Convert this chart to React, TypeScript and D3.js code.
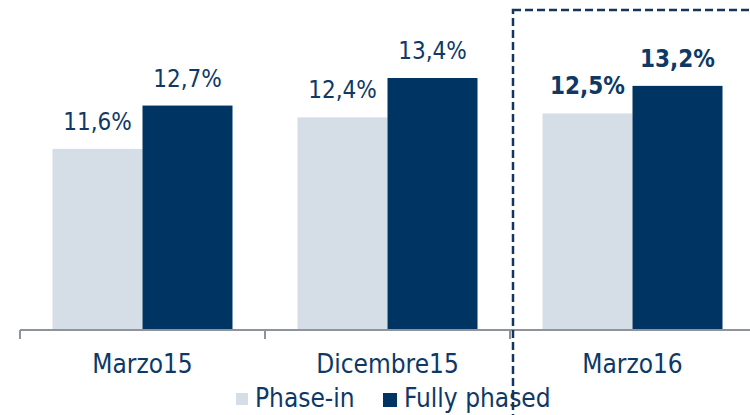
import React from "react";
import * as d3 from "d3";

const categories = ["Marzo15", "Dicembre15", "Marzo16"];
const series = ["Phase-in", "Fully phased"];
const phaseIn = [11.6, 12.4, 12.5];
const fullyPhased = [12.7, 13.4, 13.2];
const labelsPhaseIn = ["11,6%", "12,4%", "12,5%"];
const labelsFully = ["12,7%", "13,4%", "13,2%"];
const boldCategory = "Marzo16";

const W = 750;
const H = 415;
const FONT = "'DejaVu Sans Condensed', 'DejaVu Sans', sans-serif";
const TEXT = "#0E3966";
const COLORS = ["#D5DEE6", "#003463"];

export default function App() {
  const x0 = d3.scaleBand<string>().domain(categories).range([20, 755]).paddingInner(0).paddingOuter(0);
  const groupW = 180;
  const xs = d3.scaleBand<string>().domain(series).range([(x0.bandwidth() - groupW) / 2, (x0.bandwidth() + groupW) / 2]);
  const y = d3.scaleLinear().domain([7, 13.4]).range([330, 78]);
  const data = [phaseIn, fullyPhased];
  const labels = [labelsPhaseIn, labelsFully];

  return (
    <svg width={W} height={H} style={{ position: "absolute", left: 0, top: 0, background: "#fff" }}>
      {categories.map((c, ci) => (
        <g key={c} transform={`translate(${x0(c)},0)`}>
          {series.map((s, si) => {
            const v = data[si][ci];
            const bx = xs(s)!;
            const by = y(v);
            return (
              <g key={s}>
                <rect x={bx} y={by} width={xs.bandwidth()} height={330 - by} fill={COLORS[si]} />
                <text
                  x={bx + xs.bandwidth() / 2}
                  y={by - 19}
                  textAnchor="middle"
                  fontFamily={FONT}
                  fontSize={24}
                  fontWeight={c === boldCategory ? "bold" : "normal"}
                  fill={TEXT}
                >
                  {labels[si][ci]}
                </text>
              </g>
            );
          })}
          <text
            x={x0.bandwidth() / 2}
            y={373}
            textAnchor="middle"
            fontFamily={FONT}
            fontSize={26}
            fill={TEXT}
          >
            {c}
          </text>
        </g>
      ))}
      <line x1={20} x2={750} y1={330} y2={330} stroke="#8E939C" strokeWidth={2} />
      {categories.map((c) => (
        <line key={c} x1={x0(c)!} x2={x0(c)!} y1={330} y2={339} stroke="#8E939C" strokeWidth={2} />
      ))}
      {/* legend */}
      <rect x={236} y={393} width={12} height={12} fill={COLORS[0]} />
      <text x={255} y={407} fontFamily={FONT} fontSize={26} fill={TEXT}>{series[0]}</text>
      <rect x={383} y={393} width={14} height={14} fill={COLORS[1]} />
      <text x={404} y={407} fontFamily={FONT} fontSize={26} fill={TEXT}>{series[1]}</text>
      <rect x={513} y={10} width={300} height={500} fill="none" stroke="#14365C" strokeWidth={2.5} strokeDasharray="8,4" />
    </svg>
  );
}
